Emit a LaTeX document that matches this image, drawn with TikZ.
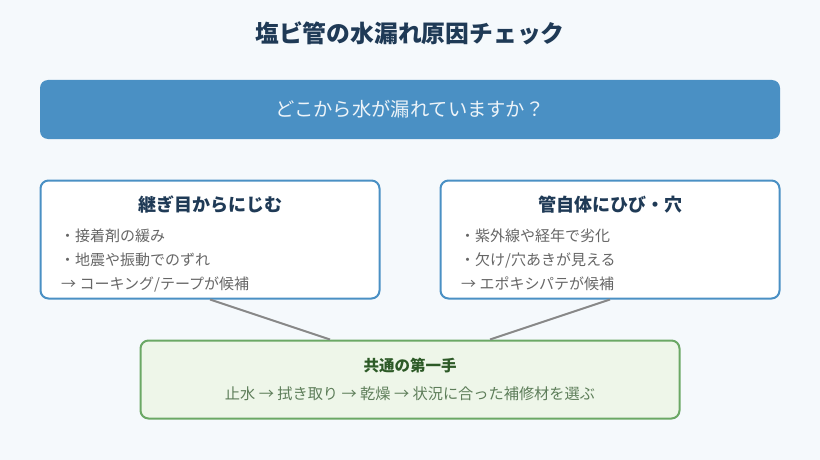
\documentclass[tikz,border=0pt]{standalone}
\usepackage{fontspec}
\setmainfont{Noto Sans CJK JP}
\usetikzlibrary{positioning}
\definecolor{bgcol}{HTML}{F5F9FC}
\definecolor{navy}{HTML}{1F3A56}
\definecolor{bluebox}{HTML}{4A90C4}
\definecolor{bodygray}{HTML}{666666}
\definecolor{linkgray}{HTML}{888888}
\definecolor{greenline}{HTML}{6BA865}
\definecolor{greenfill}{HTML}{EEF6E9}
\definecolor{greentitle}{HTML}{2D5A27}
\definecolor{greentext}{HTML}{5E7E5A}

\begin{document}
\begin{tikzpicture}[x=1pt,y=-1pt,
	causebox/.style={draw=bluebox, line width=2pt, fill=white, rounded corners=8pt, minimum width=339pt, minimum height=118pt},
	headtext/.style={text=navy, font=\fontsize{18}{21}\selectfont\bfseries},
	itemtext/.style={anchor=west, text=bodygray, font=\fontsize{15}{17}\selectfont, inner sep=0pt},
	link/.style={draw=linkgray, line width=2pt}]
\fill[bgcol] (0,0) rectangle (820,460);
\useasboundingbox (0,0) rectangle (820,460);

\node[text=navy, font=\fontsize{23.8}{28}\selectfont\bfseries] (title) at (410,33) {塩ビ管の水漏れ原因チェック};

\node[fill=bluebox, rounded corners=8pt, minimum width=740pt, minimum height=59pt] (question) at (410,109.5) {};
\node[text=white!90!bluebox, font=\fontsize{19.3}{22}\selectfont] at (question) {どこから水が漏れていますか？};

% two causes
\node[causebox] (joint) at (210,239.5) {};
\node[causebox] (crack) at (610,239.5) {};

\node[headtext] at (210,205) {継ぎ目からにじむ};
\node[itemtext] (joint1) at (60,236) {・接着剤の緩み};
\node[itemtext] (joint2) at (60,260) {・地震や振動でのずれ};
\node[itemtext] (joint3) at (61,284) {→ コーキング/テープが候補};

\node[headtext] at (610,205) {管自体にひび・穴};
\node[itemtext] (crack1) at (460,236) {・紫外線や経年で劣化};
\node[itemtext] (crack2) at (460,260) {・欠け/穴あきが見える};
\node[itemtext] (crack3) at (461,284) {→ エポキシパテが候補};

% common first step
\node[draw=greenline, line width=2pt, fill=greenfill, rounded corners=8pt, minimum width=539pt, minimum height=78pt] (first) at (410,379.5) {};
\node[text=greentitle, font=\fontsize{15.5}{18}\selectfont\bfseries] at (410,366) {共通の第一手};
\node[text=greentext, font=\fontsize{15.2}{18}\selectfont] at (410,394) {止水 → 拭き取り → 乾燥 → 状況に合った補修材を選ぶ};

\draw[link] (joint.south) -- ([xshift=-80pt]first.north);
\draw[link] (crack.south) -- ([xshift=80pt]first.north);
\end{tikzpicture}
\end{document}
